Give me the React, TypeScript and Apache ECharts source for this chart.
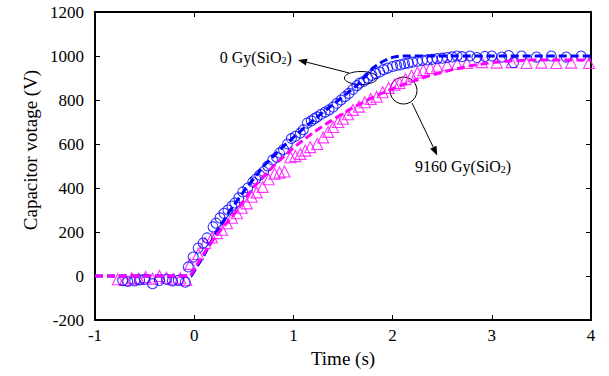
import React, { useEffect, useRef } from "react";
import * as echarts from "echarts";

// Measured capacitor voltage, 0 Gy sample (circles)
const circleTime = [
  -0.72, -0.67, -0.6, -0.55, -0.5, -0.42, -0.35, -0.28, -0.22, -0.16, -0.09,
  -0.06, -0.01, 0.04, 0.09, 0.13, 0.19, 0.22, 0.26, 0.3, 0.34, 0.38, 0.41, 0.45,
  0.49, 0.54, 0.59, 0.62, 0.66, 0.7, 0.74, 0.79, 0.83, 0.86, 0.9, 0.94, 0.98,
  1.02, 1.07, 1.1, 1.14, 1.18, 1.21, 1.24, 1.28, 1.32, 1.36, 1.4, 1.44, 1.48,
  1.52, 1.56, 1.6, 1.64, 1.67, 1.71, 1.75, 1.79, 1.83, 1.87, 1.91, 1.95, 2.0,
  2.04, 2.08, 2.12, 2.16, 2.2, 2.25, 2.3, 2.35, 2.4, 2.45, 2.5, 2.55, 2.6, 2.65,
  2.7, 2.78, 2.85, 2.93, 3.0, 3.1, 3.17, 3.22, 3.3, 3.45, 3.6, 3.75, 3.9,
];
const circleVolt = [
  -20, -25, -22, -18, -15, -35, -20, -15, -22, -20, -28,
  41, 86, 127, 150, 173, 223, 240, 264, 285, 300, 318, 332, 355,
  382, 400, 427, 440, 459, 475, 500, 527, 540, 559, 575, 600, 625,
  635, 650, 665, 695, 705, 715, 723, 735, 745, 755, 768, 785, 800,
  815, 830, 848, 865, 877, 885, 900, 912, 920, 927, 938, 945, 952,
  957, 960, 965, 968, 972, 976, 980, 982, 985, 988, 990, 993, 996, 1000,
  997, 1000, 993, 998, 1000, 995, 1002, 970, 1000, 995, 1000, 995, 1000,
];

// Measured capacitor voltage, 9160 Gy sample (triangles)
const triTime = [
  -0.77, -0.7, -0.63, -0.56, -0.49, -0.42, -0.35, -0.28, -0.21, -0.14, -0.08,
  -0.04, 0.04, 0.11, 0.18, 0.23, 0.28, 0.33, 0.38, 0.43, 0.48, 0.53, 0.58, 0.63,
  0.69, 0.75, 0.81, 0.86, 0.91, 0.97, 1.02, 1.07, 1.12, 1.17, 1.24, 1.3, 1.35,
  1.4, 1.45, 1.5, 1.55, 1.6, 1.66, 1.72, 1.78, 1.84, 1.9, 1.96, 2.02, 2.07,
  2.13, 2.19, 2.25, 2.31, 2.38, 2.45, 2.55, 2.65, 2.75, 2.9, 3.05, 3.2, 3.35,
  3.5, 3.65, 3.8, 3.98,
];
const triVolt = [
  -15, -18, -10, -12, -5, -12, 0, -8, -15, -10, -18,
  55, 100, 150, 175, 195, 210, 240, 265, 285, 310, 330, 360, 380,
  405, 440, 465, 470, 475, 540, 545, 555, 570, 586, 600, 630, 655,
  677, 700, 715, 735, 755, 770, 790, 805, 815, 835, 855, 870, 877,
  895, 910, 925, 936, 945, 952, 960, 965, 968, 972, 970, 972, 968,
  970, 968, 970, 968,
];

// Fitted responses (dashed)
const fit0Time = [
  -1, -0.03, 0.1, 0.2, 0.35, 0.5, 0.7, 0.9, 1.1, 1.3, 1.5, 1.65, 1.8, 1.9,
  1.97, 2.03, 2.08, 4,
];
const fit0Volt = [
  0, 0, 95, 180, 290, 385, 500, 590, 670, 745, 815, 870, 945, 975, 990, 997,
  1000, 1000,
];
const fit9160Time = [
  -1, -0.04, 0.06, 0.2, 0.4, 0.6, 0.8, 1.0, 1.2, 1.4, 1.6, 1.8, 2.0, 2.2, 2.4,
  2.6, 2.8, 3.0, 3.2, 3.4, 4,
];
const fit9160Volt = [
  0, 0, 75, 172, 280, 405, 500, 583, 652, 712, 765, 812, 852, 885, 914, 938,
  957, 970, 978, 982, 982,
];

const BLUE = "#0000ff";
const MAGENTA = "#ff00ff";
const FONT = "Liberation Serif";

const zip = (a: number[], b: number[]) => a.map((v, i) => [v, b[i]]);

function arrow(x1: number, y1: number, x2: number, y2: number) {
  const dx = x2 - x1;
  const dy = y2 - y1;
  const len = Math.hypot(dx, dy);
  const ux = dx / len;
  const uy = dy / len;
  const L = 9;
  const W = 3.5;
  const bx = x2 - ux * L;
  const by = y2 - uy * L;
  return [
    {
      type: "line",
      shape: { x1, y1, x2: bx, y2: by },
      style: { stroke: "#000", lineWidth: 1 },
    },
    {
      type: "polygon",
      shape: {
        points: [
          [x2, y2],
          [bx - uy * W, by + ux * W],
          [bx + uy * W, by - ux * W],
        ],
      },
      style: { fill: "#000" },
    },
  ];
}

export default function App() {
  const ref = useRef<HTMLDivElement>(null);

  useEffect(() => {
    if (!ref.current) return;
    const chart = echarts.init(ref.current, null, { renderer: "svg" });
    const axisLabel = {
      color: "#000",
      fontFamily: FONT,
      fontSize: 17,
      formatter: (v: number) => String(v),
    };
    const tickStyle = { lineStyle: { color: "#000", width: 1 } };
    const frameLine = { onZero: false, lineStyle: { color: "#000", width: 2 } };
    chart.setOption({
      animation: false,
      backgroundColor: "#fff",
      textStyle: { fontFamily: FONT },
      grid: { left: 95, right: 18, top: 12, bottom: 56 },
      xAxis: [
        {
          type: "value",
          min: -1,
          max: 4,
          interval: 1,
          name: "Time (s)",
          nameLocation: "middle",
          nameGap: 29,
          nameTextStyle: { color: "#000", fontFamily: FONT, fontSize: 19 },
          axisLine: frameLine,
          axisTick: { inside: true, length: 5, ...tickStyle },
          axisLabel: { ...axisLabel, margin: 7 },
          splitLine: { show: false },
        },
        {
          type: "value",
          position: "top",
          min: -1,
          max: 4,
          interval: 1,
          axisLine: frameLine,
          axisTick: { inside: true, length: 5, ...tickStyle },
          axisLabel: { show: false },
          splitLine: { show: false },
        },
      ],
      yAxis: [
        {
          type: "value",
          min: -200,
          max: 1200,
          interval: 200,
          axisLine: frameLine,
          axisTick: { inside: true, length: 5, ...tickStyle },
          axisLabel: { ...axisLabel, margin: 11 },
          splitLine: { show: false },
        },
        {
          type: "value",
          position: "right",
          min: -200,
          max: 1200,
          interval: 200,
          axisLine: frameLine,
          axisTick: { inside: true, length: 5, ...tickStyle },
          axisLabel: { show: false },
          splitLine: { show: false },
        },
      ],
      series: [
        {
          type: "scatter",
          data: zip(triTime, triVolt),
          symbol: "triangle",
          symbolSize: 11,
          itemStyle: { color: "transparent", borderColor: MAGENTA, borderWidth: 1.1 },
        },
        {
          type: "scatter",
          data: zip(circleTime, circleVolt),
          symbol: "circle",
          symbolSize: 10,
          itemStyle: { color: "transparent", borderColor: BLUE, borderWidth: 1.1 },
        },
        {
          type: "line",
          data: zip(fit0Time, fit0Volt),
          showSymbol: false,
          lineStyle: { color: BLUE, width: 3, type: [8, 4] },
        },
        {
          type: "line",
          data: zip(fit9160Time, fit9160Volt),
          showSymbol: false,
          lineStyle: { color: MAGENTA, width: 3, type: [8, 4] },
        },
      ],
    });

    const px = (t: number, v: number) =>
      chart.convertToPixel({ xAxisIndex: 0, yAxisIndex: 0 }, [t, v]) as number[];

    // annotation anchors in data space
    const ell = px(1.68, 900);
    const a1Tail = px(1.56, 923);
    const a1Tip = px(1.046, 982);
    const label1 = px(0.985, 995);
    const circ = px(2.11, 843);
    const a2Tail = px(2.196, 786);
    const a2Tip = px(2.45, 548);
    const label2 = px(2.226, 500);

    const textStyle = (text: string, align: string) => ({
      text,
      fill: "#000",
      font: `16px "${FONT}"`,
      align,
      verticalAlign: "middle",
      rich: {
        n: { fontFamily: FONT, fontSize: 16, fill: "#000" },
        sub: { fontFamily: FONT, fontSize: 10, padding: [7, 0, 0, 0], fill: "#000" },
      },
    });

    chart.setOption({
      graphic: [
        {
          type: "text",
          x: 30,
          y: 150,
          rotation: Math.PI / 2,
          style: {
            text: "Capacitor votage (V)",
            fill: "#000",
            font: `19px "${FONT}"`,
            align: "center",
            verticalAlign: "middle",
          },
        },
        {
          type: "ellipse",
          shape: { cx: ell[0], cy: ell[1], rx: 16.5, ry: 6.5 },
          style: { fill: "none", stroke: "#000", lineWidth: 1 },
        },
        ...arrow(a1Tail[0], a1Tail[1], a1Tip[0], a1Tip[1]),
        {
          type: "text",
          x: label1[0],
          y: label1[1],
          style: textStyle("{n|0 Gy(SiO}{sub|2}{n|)}", "right"),
        },
        {
          type: "circle",
          shape: { cx: circ[0], cy: circ[1], r: 13.5 },
          style: { fill: "none", stroke: "#000", lineWidth: 1 },
        },
        ...arrow(a2Tail[0], a2Tail[1], a2Tip[0], a2Tip[1]),
        {
          type: "text",
          x: label2[0],
          y: label2[1],
          style: textStyle("{n|9160 Gy(SiO}{sub|2}{n|)}", "left"),
        },
      ],
    });

    return () => chart.dispose();
  }, []);

  return (
    <div
      ref={ref}
      style={{ position: "fixed", left: 0, top: 0, width: 609, height: 376, background: "#fff" }}
    />
  );
}
